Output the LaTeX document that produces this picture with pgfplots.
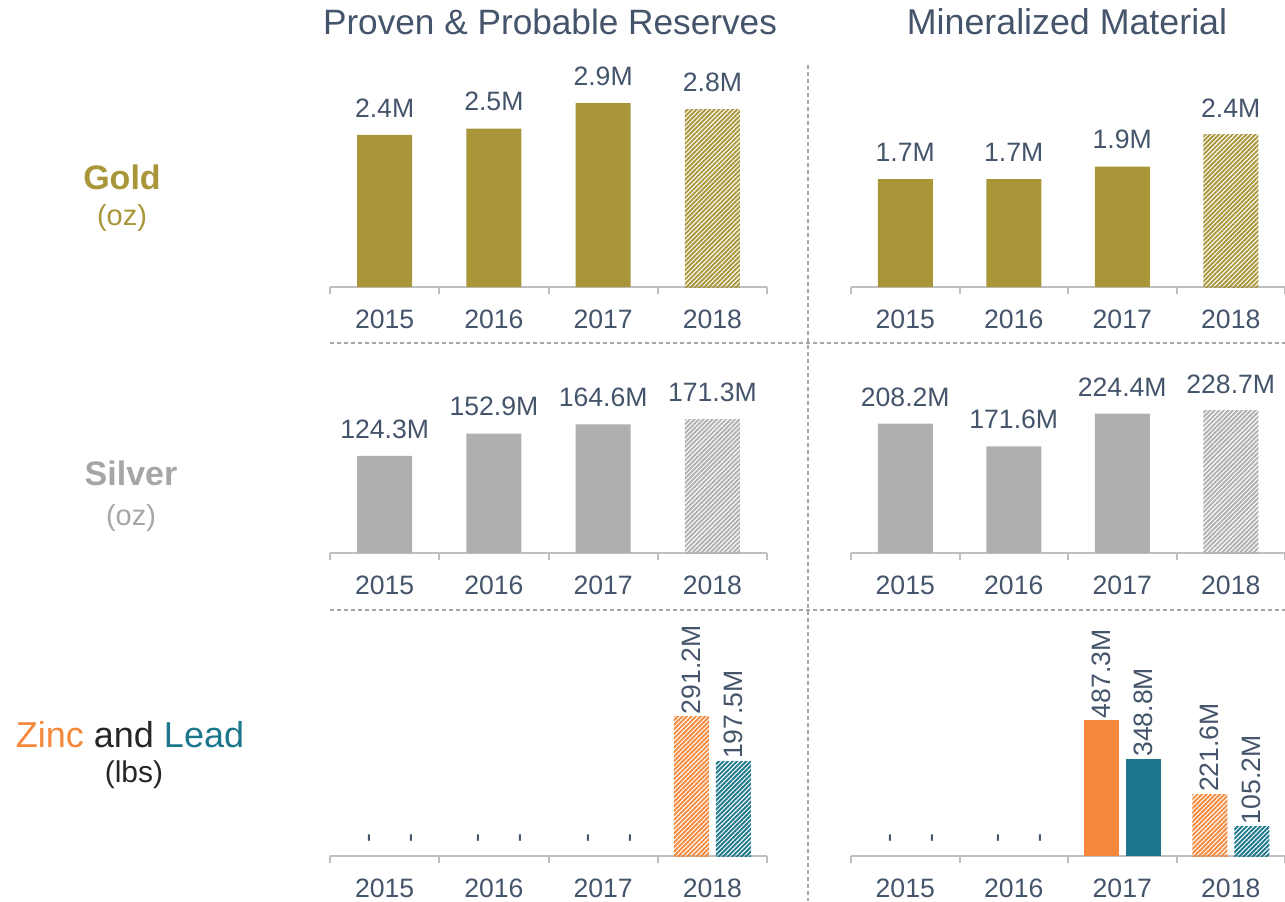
\documentclass[border=0pt]{standalone}
\usepackage{graphicx}
\usepackage{pgfplots}
\pgfplotsset{compat=1.18}
\usetikzlibrary{patterns.meta}
\usepackage{fontspec}
\setmainfont{Liberation Sans}

\definecolor{txt}{HTML}{44546A}
\definecolor{goldc}{HTML}{A89639}
\definecolor{silverc}{HTML}{AFAFAF}
\definecolor{silvert}{HTML}{A6A6A6}
\definecolor{orangec}{HTML}{F5883A}
\definecolor{tealc}{HTML}{1C778C}
\definecolor{axisgray}{HTML}{BFBFBF}
\definecolor{sepgray}{HTML}{A6A6A6}

% zero values are shown as a dash
\newcommand\dz{\kern5.5pt -}

\pgfplotsset{
    panel/.style={
        scale only axis,
        anchor=south west,
        clip=false,
        axis x line=bottom,
        axis y line=none,
        x axis line style={draw=axisgray, line width=1pt, -},
        xmin=0.5, xmax=4.5, ymin=0,
        xtick={1,2,3,4},
        xticklabels={2015,2016,2017,2018},
        minor xtick={0.5,1.5,...,4.5},
        major tick length=0pt,
        minor tick length=3.5pt,
        tick align=outside,
        minor tick style={draw=axisgray, line width=1pt},
        xticklabel style={anchor=base, inner sep=0pt, yshift=-20.5pt,
            font=\fontsize{13.3}{15}\selectfont, text=txt},
        point meta=explicit symbolic,
        nodes near coords,
        every node near coord/.append style={font=\fontsize{13.3}{15}\selectfont,
            text=txt, inner sep=0pt, anchor=south, yshift=8.5pt},
    },
    solidbar/.style={ybar, draw=none, fill=#1, bar width=27.5pt, bar shift=0pt},
    hatchbar/.style={ybar, draw=none, pattern={Lines[angle=45,distance=1.6pt,line width=0.95pt]},
        pattern color=#1, bar width=27.5pt, bar shift=0pt},
    % vertical labels of the zinc and lead panels
    rot/.style={
        nodes near coords={\rotatebox{90}{\pgfplotspointmeta}},
        every node near coord/.append style={yshift=-8.5pt, inner sep=1pt}},
    zl/.style={bar width=17.5pt, bar shift=#1,
        every node near coord/.append style={xshift=#1}},
    nobar/.style={ybar, draw=none, fill=none, zl=#1,
        every node near coord/.append style={xshift=4.5pt}},
}

\begin{document}
\begin{tikzpicture}
\path[use as bounding box] (0,0) rectangle (642.5pt,-450.5pt);

% separators
\draw[sepgray, line width=0.6pt, dash pattern=on 2pt off 1.5pt] (404pt,-32.5pt) -- (404pt,-450.5pt);
\draw[sepgray, line width=0.6pt, dash pattern=on 2pt off 1.5pt] (165pt,-171.5pt) -- (642.5pt,-171.5pt);
\draw[sepgray, line width=0.6pt, dash pattern=on 2pt off 1.5pt] (165pt,-305pt) -- (642.5pt,-305pt);

% column titles
\node[text=txt, font=\fontsize{17.6}{20}\selectfont] at (275pt,-11pt) {Proven \& Probable Reserves};
\node[text=txt, font=\fontsize{17.9}{20}\selectfont] at (533.5pt,-11pt) {Mineralized Material};

% row labels
\node[text=goldc, font=\fontsize{17}{20}\bfseries] at (61pt,-88.5pt) {Gold};
\node[text=goldc, font=\fontsize{14.5}{17}\selectfont] at (61pt,-109pt) {(oz)};
\node[text=silvert, font=\fontsize{17}{20}\bfseries] at (65.5pt,-236.5pt) {Silver};
\node[text=silvert, font=\fontsize{14.5}{17}\selectfont] at (65.5pt,-259pt) {(oz)};
\node[font=\fontsize{18}{21}\selectfont] at (65pt,-367.5pt)
    {\textcolor{orangec}{Zinc} \textcolor{black!85}{and} \textcolor{tealc}{Lead}};
\node[text=black!85, font=\fontsize{15}{18}\selectfont] at (67pt,-387.5pt) {(lbs)};

% Gold, reserves
\begin{axis}[panel, at={(165pt,-143.5pt)}, width=218.5pt, height=110pt, ymax=3.47]
\addplot[solidbar=goldc] coordinates {(1,2.4) [2.4M] (2,2.5) [2.5M] (3,2.9) [2.9M]};
\addplot[hatchbar=goldc] coordinates {(4,2.8) [2.8M]};
\end{axis}

% Gold, mineralized
\begin{axis}[panel, at={(425.5pt,-143.5pt)}, width=217pt, height=110pt, ymax=3.47]
\addplot[solidbar=goldc] coordinates {(1,1.7) [1.7M] (2,1.7) [1.7M] (3,1.9) [1.9M]};
\addplot[hatchbar=goldc] coordinates {(4,2.4) [2.4M]};
\end{axis}

% Silver, reserves
\begin{axis}[panel, at={(165pt,-276.5pt)}, width=218.5pt, height=100pt, ymax=256]
\addplot[solidbar=silverc] coordinates {(1,124.3) [124.3M] (2,152.9) [152.9M] (3,164.6) [164.6M]};
\addplot[hatchbar=silverc] coordinates {(4,171.3) [171.3M]};
\end{axis}

% Silver, mineralized
\begin{axis}[panel, at={(425.5pt,-276.5pt)}, width=217pt, height=100pt, ymax=322]
\addplot[solidbar=silverc] coordinates {(1,208.2) [208.2M] (2,171.6) [171.6M] (3,224.4) [224.4M]};
\addplot[hatchbar=silverc] coordinates {(4,228.7) [228.7M]};
\end{axis}

% Zinc and lead, reserves
\begin{axis}[panel, rot, at={(165pt,-428pt)}, width=218.5pt, height=115pt, ymax=480]
\addplot[nobar=-10.5pt] coordinates {(1,0) [\dz] (2,0) [\dz] (3,0) [\dz]};
\addplot[nobar=10.5pt] coordinates {(1,0) [\dz] (2,0) [\dz] (3,0) [\dz]};
\addplot[hatchbar=orangec, zl=-10.5pt] coordinates {(4,291.2) [291.2M]};
\addplot[hatchbar=tealc, zl=10.5pt] coordinates {(4,197.5) [197.5M]};
\end{axis}

% Zinc and lead, mineralized
\begin{axis}[panel, rot, at={(425.5pt,-428pt)}, width=217pt, height=115pt, ymax=827]
\addplot[nobar=-10.5pt] coordinates {(1,0) [\dz] (2,0) [\dz]};
\addplot[nobar=10.5pt] coordinates {(1,0) [\dz] (2,0) [\dz]};
\addplot[solidbar=orangec, zl=-10.5pt] coordinates {(3,487.3) [487.3M]};
\addplot[solidbar=tealc, zl=10.5pt] coordinates {(3,348.8) [348.8M]};
\addplot[hatchbar=orangec, zl=-10.5pt] coordinates {(4,221.6) [221.6M]};
\addplot[hatchbar=tealc, zl=10.5pt] coordinates {(4,105.2) [105.2M]};
\end{axis}
\end{tikzpicture}
\end{document}
